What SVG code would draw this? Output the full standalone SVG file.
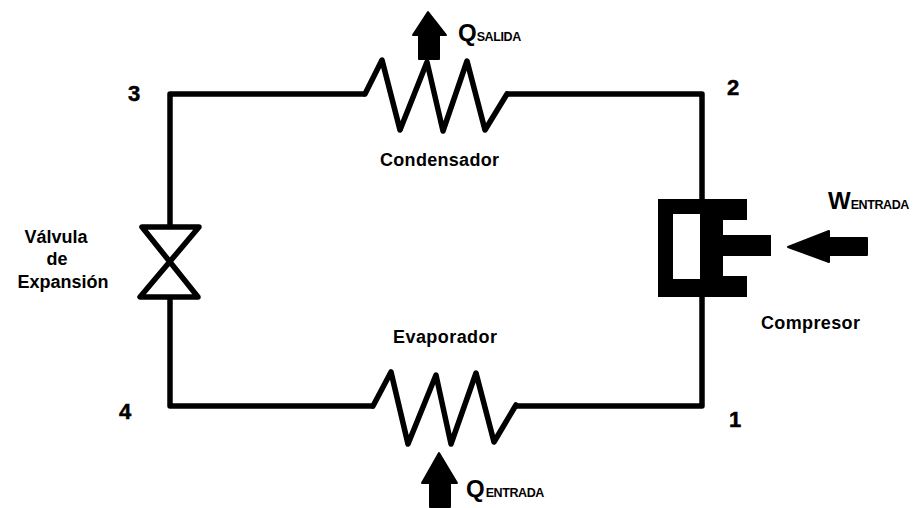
<svg xmlns="http://www.w3.org/2000/svg" width="918" height="508" viewBox="0 0 918 508">
<style>
.w{fill:none;stroke:#000;stroke-width:5.5;stroke-linejoin:round;stroke-linecap:round}
.a{fill:#000;stroke:#000;stroke-width:2;stroke-linejoin:round}
.t{font-family:"Liberation Sans",Arial,sans-serif;font-weight:700;fill:#000;font-size:18px}
.n{font-size:22px;stroke:#000;stroke-width:.5}
.b{font-size:24px}
.s{font-size:12.5px;letter-spacing:-.4px}
</style>
<rect width="918" height="508" fill="#fff"/>
<g id="connectors">
<path class="w" style="stroke-linecap:butt" d="M170 226V94H365M507 94H702V199M702 297V406H516M373 406H170V297"/>
</g>
<g id="condensador">
<path class="w" d="M365 94L382 60L400 130L427 62L443 131L467 61L485 130L507 94"/>
<text class="t" x="380" y="166" textLength="119" lengthAdjust="spacing">Condensador</text>
</g>
<g id="evaporador">
<path class="w" d="M373 406L391 372L408 444L436 375L451 444L476 373L494 442L516 405"/>
<text class="t" x="393" y="343" textLength="104" lengthAdjust="spacing">Evaporador</text>
</g>
<g id="valvula">
<path class="w" d="M142 227H199L140 297H198Z"/>
<text class="t" text-anchor="middle" x="56" y="243">Válvula</text>
<text class="t" text-anchor="middle" x="57" y="265">de</text>
<text class="t" text-anchor="middle" x="63" y="288">Expansión</text>
</g>
<g id="compresor">
<path fill-rule="evenodd" d="M658 199H747V220H723V235H771V256H723V276H747V297H658ZM673 214V279H700V214Z"/>
<text class="t" x="761" y="329" textLength="99" lengthAdjust="spacing">Compresor</text>
</g>
<g id="q-salida">
<path class="a" d="M428 12L446 35H439V59H419V35H413Z"/>
<text class="t" x="458" y="41"><tspan class="b">Q</tspan><tspan class="s">SALIDA</tspan></text>
</g>
<g id="q-entrada">
<path class="a" d="M439 453L457 483H450V507H430V483H422Z"/>
<text class="t" x="466" y="497"><tspan class="b">Q</tspan><tspan class="s" dx="1">ENTRADA</tspan></text>
</g>
<g id="w-entrada">
<path class="a" d="M788 247L829 231V238H867V255H829V262Z"/>
<text class="t" x="828" y="209"><tspan class="b">W</tspan><tspan class="s">ENTRADA</tspan></text>
</g>
<g id="state-labels">
<text class="t n" x="128" y="101">3</text>
<text class="t n" x="727" y="95">2</text>
<text class="t n" x="119" y="419">4</text>
<text class="t n" x="729" y="427">1</text>
</g>
</svg>
